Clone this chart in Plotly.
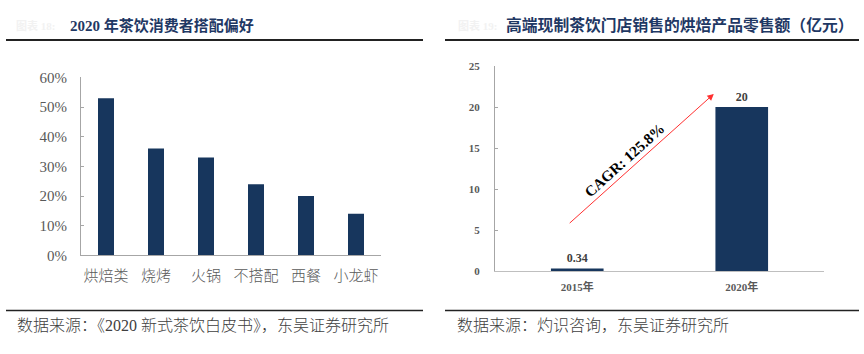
import plotly.graph_objects as go

# ---- data ----
pair_categories = ["烘焙类", "烧烤", "火锅", "不搭配", "西餐", "小龙虾"]
pair_share = [0.53, 0.36, 0.33, 0.24, 0.20, 0.14]

year_labels = ["2015年", "2020年"]
bakery_sales = [0.34, 20]
bakery_text = ["0.34", "20"]

left_ticks = [0, 0.1, 0.2, 0.3, 0.4, 0.5, 0.6]
left_ticktext = ["0%", "10%", "20%", "30%", "40%", "50%", "60%"]
right_ticks = [0, 5, 10, 15, 20, 25]

W, H = 864, 354
NAVY = "#17365d"
FONT = "Liberation Serif, Noto Sans CJK SC"
CJK = "Liberation Serif, Noto Sans CJK SC"

def px(x):
    return x / W

def py(y):
    return (H - y) / H

fig = go.Figure()

fig.add_trace(go.Bar(
    x=pair_categories, y=pair_share, width=0.32,
    marker=dict(color=NAVY, line=dict(width=0)),
    xaxis="x", yaxis="y", showlegend=False, hoverinfo="x+y",
))

fig.add_trace(go.Bar(
    x=year_labels, y=bakery_sales, width=0.32,
    marker=dict(color=NAVY, line=dict(width=0)),
    text=bakery_text, textposition="outside", cliponaxis=False,
    textfont=dict(family=FONT, size=12, color="#404040", weight="bold"),
    xaxis="x2", yaxis="y2", showlegend=False, hoverinfo="x+y",
))

axis_gray = "#a6a6a6"

fig.update_layout(
    width=W, height=H,
    margin=dict(l=0, r=0, t=0, b=0),
    paper_bgcolor="white", plot_bgcolor="white",
    xaxis=dict(
        domain=[px(81), px(381)], anchor="y",
        showline=True, linecolor=axis_gray, linewidth=1,
        ticks="", showgrid=False,
        tickfont=dict(family=CJK, size=15, color="#595959", weight=300),
        ticklabelstandoff=7,
    ),
    yaxis=dict(
        domain=[py(259), py(72.7)], anchor="x",
        range=[0, 0.6],
        tickvals=left_ticks, ticktext=left_ticktext,
        showline=True, linecolor=axis_gray, linewidth=1,
        ticks="inside", ticklen=3, tickcolor=axis_gray,
        showgrid=False, zeroline=False,
        tickfont=dict(family=FONT, size=15, color="#595959"),
        ticklabelstandoff=10,
    ),
    xaxis2=dict(
        domain=[px(495), px(824)], anchor="y2",
        showline=True, linecolor="#bfbfbf", linewidth=1,
        ticks="", showgrid=False,
        tickfont=dict(family=FONT, size=11, color="#595959", weight="bold"),
        ticklabelstandoff=6,
    ),
    yaxis2=dict(
        domain=[py(275.7), py(60.7)], anchor="x2",
        range=[0, 25], tickvals=right_ticks,
        showline=True, linecolor=axis_gray, linewidth=1,
        ticks="inside", ticklen=3, tickcolor=axis_gray,
        showgrid=False, zeroline=False,
        tickfont=dict(family=FONT, size=11, color="#595959", weight="bold"),
        ticklabelstandoff=12,
    ),
)

shapes = []
for x0, x1 in [(6, 423), (445, 859)]:
    shapes.append(dict(type="line", xref="paper", yref="paper",
                       x0=px(x0), x1=px(x1), y0=py(33.5), y1=py(33.5),
                       line=dict(color="#222222", width=2)))
    shapes.append(dict(type="line", xref="paper", yref="paper",
                       x0=px(x0), x1=px(x1), y0=py(316.7), y1=py(316.7),
                       line=dict(color="#222222", width=1.5)))
fig.update_layout(shapes=shapes)

ann = []
title_color = "#1f3864"
faint = "#f2f2f2"
ann.append(dict(text="图表 18:", x=px(14), y=py(18), xref="paper", yref="paper",
                xanchor="left", yanchor="middle", showarrow=False,
                font=dict(family=CJK, size=11, color=faint, weight="bold")))
ann.append(dict(text="2020 年茶饮消费者搭配偏好", x=px(68), y=py(18), xref="paper", yref="paper",
                xanchor="left", yanchor="middle", showarrow=False,
                font=dict(family=CJK, size=15, color=title_color, weight="bold")))
ann.append(dict(text="图表 19:", x=px(456), y=py(18), xref="paper", yref="paper",
                xanchor="left", yanchor="middle", showarrow=False,
                font=dict(family=CJK, size=11, color=faint, weight="bold")))
ann.append(dict(text="高端现制茶饮门店销售的烘焙产品零售额（亿元）", x=px(504), y=py(18), xref="paper", yref="paper",
                xanchor="left", yanchor="middle", showarrow=False,
                font=dict(family=CJK, size=15.8, color=title_color, weight="bold")))
ann.append(dict(text="数据来源：《2020 新式茶饮白皮书》，东吴证券研究所", x=px(15), y=py(333), xref="paper", yref="paper",
                xanchor="left", yanchor="middle", showarrow=False,
                font=dict(family=CJK, size=16, color="#404040", weight=300)))
ann.append(dict(text="数据来源：灼识咨询，东吴证券研究所", x=px(455), y=py(333), xref="paper", yref="paper",
                xanchor="left", yanchor="middle", showarrow=False,
                font=dict(family=CJK, size=16, color="#404040", weight=300)))
# CAGR arrow
ann.append(dict(x=0.83, y=21.6, ax=-0.055, ay=5.7, xref="x2", yref="y2", axref="x2", ayref="y2",
                text="", showarrow=True, arrowhead=2, arrowsize=1.3, arrowwidth=1,
                arrowcolor="#ff3030"))
ann.append(dict(x=0.29, y=13.5, xref="x2", yref="y2", text="CAGR: 125.8%", showarrow=False,
                textangle=-42, font=dict(family=FONT, size=15, color="#000000", weight="bold")))
fig.update_layout(annotations=ann)

fig.write_html("out.html")
